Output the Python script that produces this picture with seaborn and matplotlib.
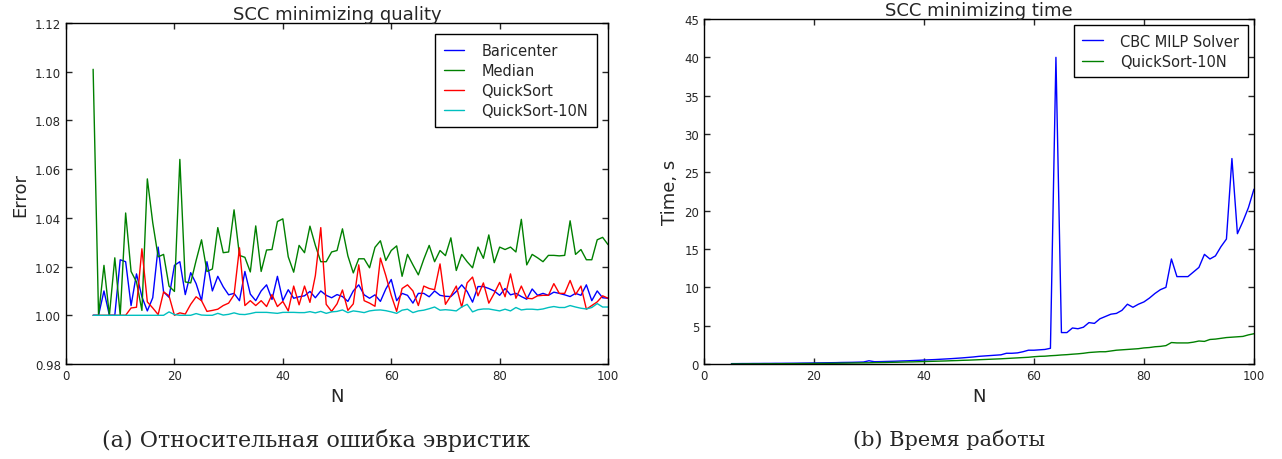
import numpy as np
import pandas as pd
import matplotlib
matplotlib.use("Agg")
import matplotlib.pyplot as plt
import seaborn as sns

# problem sizes N = 5..100
n_values = list(range(5, 101))

baricenter = [
    1.0, 1.0, 1.010, 1.0, 1.0, 1.0228, 1.022, 1.004, 1.017, 1.0076,
    1.0018, 1.0072, 1.028, 1.0096, 1.0074, 1.0205, 1.022, 1.0085, 1.0175, 1.013,
    1.006, 1.022, 1.010, 1.016, 1.0117, 1.0084, 1.009, 1.006, 1.018, 1.0087,
    1.006, 1.010, 1.0125, 1.0065, 1.016, 1.006, 1.0105, 1.007, 1.0076, 1.008,
    1.0098, 1.0072, 1.010, 1.0082, 1.0072, 1.0085, 1.0077, 1.0057, 1.010, 1.0125,
    1.0084, 1.007, 1.0084, 1.0057, 1.0108, 1.0147, 1.006, 1.009, 1.0082, 1.005,
    1.009, 1.009, 1.0076, 1.010, 1.0082, 1.0078, 1.0077, 1.0098, 1.0125, 1.0098,
    1.0054, 1.0118, 1.0118, 1.011, 1.010, 1.0082, 1.011, 1.0084, 1.009, 1.0077,
    1.0066, 1.0108, 1.0082, 1.009, 1.0082, 1.0095, 1.009, 1.0084, 1.0077, 1.009,
    1.0082, 1.0125, 1.006, 1.010, 1.0072, 1.007,
]

median = [
    1.101, 1.0, 1.0205, 1.0, 1.0236, 1.0, 1.042, 1.018, 1.0137, 1.002,
    1.056, 1.038, 1.024, 1.025, 1.012, 1.0098, 1.064, 1.0137, 1.0133, 1.0225,
    1.031, 1.018, 1.019, 1.036, 1.0257, 1.026, 1.0433, 1.0246, 1.0238, 1.0178,
    1.0367, 1.018, 1.0268, 1.027, 1.0385, 1.0396, 1.024, 1.0177, 1.0287, 1.0257,
    1.0366, 1.0287, 1.022, 1.022, 1.026, 1.0266, 1.0355, 1.0244, 1.0174, 1.0232,
    1.0232, 1.0195, 1.0279, 1.0306, 1.0225, 1.0266, 1.0285, 1.016, 1.025, 1.0207,
    1.0166, 1.023, 1.0287, 1.022, 1.0266, 1.0245, 1.0318, 1.0184, 1.025, 1.022,
    1.0195, 1.028, 1.0234, 1.033, 1.0216, 1.028, 1.027, 1.028, 1.026, 1.0394,
    1.0207, 1.025, 1.0236, 1.022, 1.0246, 1.0246, 1.0244, 1.0246, 1.0388, 1.025,
    1.027, 1.0228, 1.0228, 1.031, 1.032, 1.029,
]

quicksort = [
    1.0, 1.0, 1.0, 1.0, 1.0, 1.0, 1.0, 1.003, 1.0033, 1.0273,
    1.0055, 1.003, 1.0003, 1.0096, 1.008, 1.0, 1.001, 1.0005, 1.0045, 1.0076,
    1.006, 1.0016, 1.002, 1.0025, 1.004, 1.005, 1.0084, 1.0277, 1.004, 1.006,
    1.004, 1.006, 1.0036, 1.0085, 1.0036, 1.0057, 1.0018, 1.012, 1.0043, 1.012,
    1.0053, 1.0163, 1.036, 1.0045, 1.0016, 1.0047, 1.0104, 1.002, 1.0047, 1.0207,
    1.006, 1.005, 1.0037, 1.0235, 1.0163, 1.0082, 1.0016, 1.011, 1.0125, 1.010,
    1.004, 1.012, 1.011, 1.0105, 1.0211, 1.0045, 1.008, 1.012, 1.0033, 1.0133,
    1.0157, 1.008, 1.0133, 1.005, 1.009, 1.0135, 1.0076, 1.017, 1.007, 1.012,
    1.007, 1.0068, 1.008, 1.0082, 1.0082, 1.013, 1.009, 1.009, 1.0143, 1.0085,
    1.012, 1.0025, 1.004, 1.0055, 1.008, 1.007,
]

quicksort_10n = [
    1.0, 1.0, 1.0, 1.0, 1.0, 1.0, 1.0, 1.0, 1.0, 1.0,
    1.0, 1.0, 1.0, 1.0, 1.0014, 1.0003, 1.0, 1.0, 1.0, 1.0007,
    1.0001, 1.0, 1.0, 1.0008, 1.0001, 1.0004, 1.001, 1.0004, 1.0003, 1.0007,
    1.0012, 1.0012, 1.0012, 1.001, 1.0008, 1.0012, 1.0012, 1.0012, 1.0011, 1.0011,
    1.0015, 1.001, 1.0016, 1.0008, 1.0014, 1.0016, 1.0022, 1.0011, 1.0018, 1.0015,
    1.0011, 1.0018, 1.0021, 1.0022, 1.0019, 1.0014, 1.0008, 1.0021, 1.0025, 1.0011,
    1.0018, 1.0021, 1.0027, 1.0034, 1.0021, 1.0023, 1.0021, 1.0018, 1.0034, 1.0045,
    1.0014, 1.0023, 1.0026, 1.0026, 1.0022, 1.0018, 1.0025, 1.0018, 1.0032, 1.0022,
    1.0025, 1.0025, 1.0023, 1.0026, 1.0032, 1.0036, 1.0032, 1.0032, 1.004, 1.0034,
    1.0029, 1.0026, 1.0032, 1.0048, 1.0034, 1.0034,
]

cbc_time = [
    0.05, 0.05, 0.06, 0.06, 0.07, 0.07, 0.08, 0.08, 0.09, 0.09,
    0.1, 0.1, 0.11, 0.12, 0.13, 0.14, 0.15, 0.16, 0.17, 0.18,
    0.2, 0.21, 0.22, 0.24, 0.26, 0.42, 0.3, 0.31, 0.33, 0.35,
    0.37, 0.4, 0.42, 0.45, 0.48, 0.52, 0.55, 0.58, 0.62, 0.66,
    0.7, 0.75, 0.8, 0.86, 0.92, 1.0, 1.05, 1.1, 1.15, 1.2,
    1.4, 1.4, 1.45, 1.6, 1.8, 1.8, 1.85, 1.9, 2.05, 40.0,
    4.1, 4.1, 4.7, 4.6, 4.8, 5.4, 5.3, 5.9, 6.2, 6.5,
    6.6, 7.0, 7.8, 7.4, 7.8, 8.1, 8.6, 9.2, 9.7, 10.0,
    13.7, 11.4, 11.4, 11.4, 12.0, 12.6, 14.3, 13.7, 14.1, 15.3,
    16.3, 26.8, 17.0, 18.6, 20.4, 22.8,
]

qs10n_time = [
    0.01, 0.01, 0.01, 0.02, 0.02, 0.02, 0.03, 0.03, 0.03, 0.04,
    0.04, 0.05, 0.05, 0.06, 0.06, 0.07, 0.08, 0.08, 0.09, 0.1,
    0.11, 0.12, 0.13, 0.14, 0.15, 0.16, 0.18, 0.19, 0.2, 0.22,
    0.23, 0.25, 0.27, 0.28, 0.3, 0.32, 0.34, 0.36, 0.38, 0.4,
    0.43, 0.45, 0.48, 0.5, 0.53, 0.56, 0.59, 0.62, 0.65, 0.68,
    0.72, 0.76, 0.8, 0.84, 0.88, 0.95, 1.0, 1.02, 1.08, 1.12,
    1.18, 1.22, 1.28, 1.33, 1.4, 1.5, 1.55, 1.6, 1.6, 1.7,
    1.8, 1.85, 1.9, 1.95, 2.0, 2.1, 2.15, 2.25, 2.3, 2.4,
    2.8, 2.75, 2.75, 2.75, 2.85, 3.0, 2.95, 3.2, 3.25, 3.35,
    3.45, 3.5, 3.55, 3.6, 3.8, 3.95,
]

sns.set_style("ticks", {
    "xtick.direction": "in",
    "ytick.direction": "in",
    "axes.edgecolor": "black",
})
plt.rcParams["font.family"] = ["DejaVu Sans"]
plt.rcParams["xtick.top"] = True
plt.rcParams["ytick.right"] = True
plt.rcParams["xtick.major.size"] = 4.5
plt.rcParams["ytick.major.size"] = 4.5

quality = pd.DataFrame({
    "N": n_values,
    "Baricenter": baricenter,
    "Median": median,
    "QuickSort": quicksort,
    "QuickSort-10N": quicksort_10n,
})
timing = pd.DataFrame({
    "N": n_values,
    "CBC MILP Solver": cbc_time,
    "QuickSort-10N": qs10n_time,
})

fig = plt.figure(figsize=(12.82, 4.6), dpi=100)
ax1 = fig.add_axes([0.0515, 0.2065, 0.4228, 0.7413])
ax2 = fig.add_axes([0.5491, 0.2065, 0.429, 0.75])

# left: quality of heuristics
colors_q = {"Baricenter": "#0000ff", "Median": "#008000",
            "QuickSort": "#ff0000", "QuickSort-10N": "#00bfbf"}
for name, col in colors_q.items():
    sns.lineplot(data=quality, x="N", y=name, color=col, label=name,
                 linewidth=1.0, ax=ax1)
ax1.set_xlim(0, 100)
ax1.set_ylim(0.98, 1.12)
ax1.set_xticks([0, 20, 40, 60, 80, 100])
ax1.set_yticks([0.98, 1.00, 1.02, 1.04, 1.06, 1.08, 1.10, 1.12])
ax1.yaxis.set_major_formatter(matplotlib.ticker.FormatStrFormatter("%.2f"))
ax1.set_xlabel("N", fontsize=13)
ax1.set_ylabel("Error", fontsize=13)
ax1.set_title("SCC minimizing quality", fontsize=13, pad=2.5)

# right: running time
colors_t = {"CBC MILP Solver": "#0000ff", "QuickSort-10N": "#008000"}
for name, col in colors_t.items():
    sns.lineplot(data=timing, x="N", y=name, color=col, label=name,
                 linewidth=1.0, ax=ax2)
ax2.set_xlim(0, 100)
ax2.set_ylim(0, 45)
ax2.set_xticks([0, 20, 40, 60, 80, 100])
ax2.set_yticks(range(0, 50, 5))
ax2.set_xlabel("N", fontsize=13)
ax2.set_ylabel("Time, s", fontsize=13)
ax2.set_title("SCC minimizing time", fontsize=13, pad=3)

for ax, pad in ((ax1, 0.75), (ax2, 0.4)):
    ax.tick_params(labelsize=8.5, width=1)
    for sp in ax.spines.values():
        sp.set_linewidth(1)
    leg = ax.legend(loc="upper right", fontsize=10.5, fancybox=False,
                    framealpha=1, edgecolor="black", handlelength=1.4,
                    handletextpad=1.2, borderaxespad=pad, borderpad=0.6,
                    labelspacing=0.35)
    leg.get_frame().set_linewidth(1)

fig.text(0.2465, 0.043, "(a) Относительная ошибка эвристик", ha="center",
         va="center", fontsize=16, family="DejaVu Serif")
fig.text(0.740, 0.043, "(b) Время работы", ha="center",
         va="center", fontsize=15, family="DejaVu Serif")

fig.savefig("out.png", dpi=100)
